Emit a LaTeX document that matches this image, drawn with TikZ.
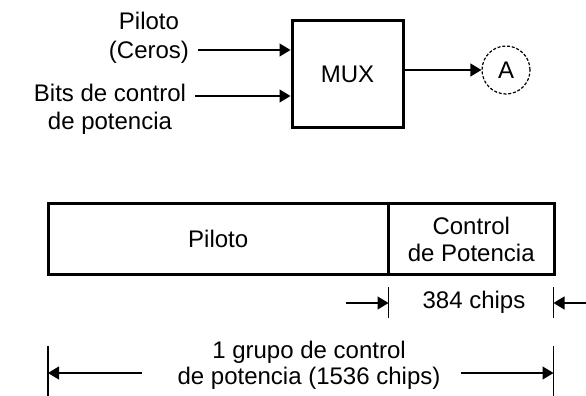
\documentclass[tikz,border=0pt]{standalone}
\usepackage{fontspec}
\setmainfont{Liberation Sans}
\usetikzlibrary{arrows.meta}
\begin{document}
\begin{tikzpicture}[x=1pt,y=-1pt,
  lbl/.style={font=\fontsize{24}{27}\selectfont, align=center, inner sep=0pt},
  lbltop/.style={lbl, font=\fontsize{24}{28.5}\selectfont},
  thickbox/.style={draw, line width=3pt, inner sep=0pt},
  conn/.style={line width=1.2pt, -{Triangle[length=11pt,width=13pt]}},
  tickline/.style={line width=1.2pt}]
\useasboundingbox (0,0) rectangle (586,396);
% top part
\node[thickbox, lbl, minimum width=111pt, minimum height=106pt] (mux) at (347.5,74) {MUX};
\node[lbltop] (pil) at (149,38) {Piloto\\(Ceros)};
\node[lbltop] (bits) at (110,109.5) {Bits de control\\de potencia};
\node[lbl, draw, circle, dash pattern=on 3pt off 1.8pt, line width=1.2pt, minimum size=48pt] (A) at (506,70) {A};
\coordinate (in1) at (198,50);
\coordinate (in2) at (195,96);
\draw[conn] (in1) -- (mux.west |- in1);
\draw[conn] (in2) -- (mux.west |- in2);
\draw[conn] (mux.east |- A) -- (A.west);
% bottom frame
\node[thickbox, lbl, minimum width=340.5pt, minimum height=71pt] (fp) at (218.25,239) {Piloto};
\node[thickbox, lbl, minimum width=165.5pt, minimum height=71pt] (fc) at (471.25,239) {Control\\de Potencia};
% 384 chips dimension
\coordinate (t1a) at (388.5,287);
\coordinate (t1b) at (388.5,318);
\coordinate (t2a) at (553.5,287);
\coordinate (t2b) at (553.5,318);
\coordinate (a1) at (346,303);
\coordinate (a2) at (586,303);
\draw[tickline] (t1a) -- (t1b);
\draw[tickline] (t2a) -- (t2b);
\draw[conn] (a1) -- (a1 -| t1a);
\draw[conn] (a2) -- (a2 -| t2a);
\node[lbl] (n384) at (474,302) {384 chips};
% 1536 chips dimension
\coordinate (t3a) at (48,346);
\coordinate (t3b) at (48,396);
\coordinate (t4a) at (553.5,346);
\coordinate (t4b) at (553.5,396);
\coordinate (b1) at (142,373);
\coordinate (b2) at (461,373);
\draw[tickline] (t3a) -- (t3b);
\draw[tickline] (t4a) -- (t4b);
\draw[conn] (b1) -- (b1 -| t3a);
\draw[conn] (b2) -- (b2 -| t4a);
\node[lbl, font=\fontsize{24}{26}\selectfont] (n1536) at (309,365.5) {1 grupo de control\\de potencia (1536 chips)};
\end{tikzpicture}
\end{document}
